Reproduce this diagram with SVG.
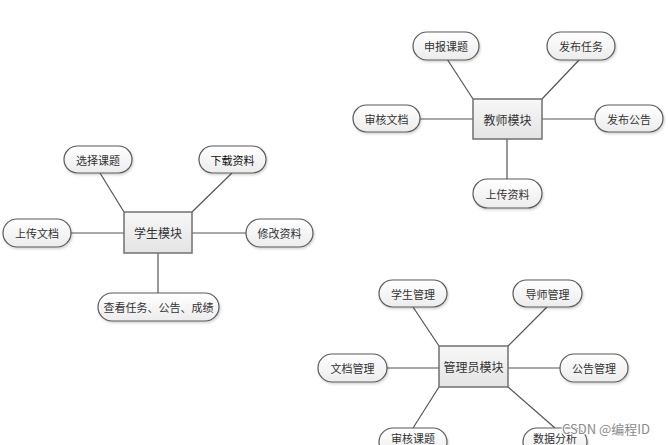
<svg xmlns="http://www.w3.org/2000/svg" width="668" height="445" viewBox="0 0 668 445">
<defs>
<linearGradient id="pg" x1="0" y1="0" x2="0" y2="1"><stop offset="0" stop-color="#ffffff"/><stop offset="1" stop-color="#ececec"/></linearGradient>
<linearGradient id="bg" x1="0" y1="0" x2="0" y2="1"><stop offset="0" stop-color="#f7f7f7"/><stop offset="1" stop-color="#e4e4e4"/></linearGradient>
<filter id="sh" x="-10%" y="-20%" width="130%" height="160%"><feDropShadow dx="1" dy="1.5" stdDeviation="1" flood-color="#000" flood-opacity="0.18"/></filter>
</defs>
<style>
.pill{fill:url(#pg);stroke:#5a5a5a;stroke-width:1.2;filter:url(#sh)}
.box{fill:url(#bg);stroke:#707070;stroke-width:1.5}
.t{font-family:"Noto Sans CJK SC","Noto Sans",sans-serif;font-size:11px;fill:#333;text-anchor:middle;dominant-baseline:central}
.tb{font-size:12px}
.c line{stroke:#555;stroke-width:1.2}
</style>
<rect width="668" height="445" fill="#fff"/>
<g class="c" id="connectors">
<line x1="447" y1="59" x2="473" y2="99"/>
<line x1="580" y1="59" x2="542" y2="99"/>
<line x1="420" y1="119" x2="473" y2="119"/>
<line x1="542" y1="119" x2="595" y2="119"/>
<line x1="507" y1="139" x2="507" y2="179"/>
<line x1="100" y1="173" x2="124" y2="212"/>
<line x1="232" y1="173" x2="192" y2="212"/>
<line x1="71" y1="233" x2="124" y2="233"/>
<line x1="192" y1="233" x2="246" y2="233"/>
<line x1="158" y1="253" x2="158" y2="293"/>
<line x1="413" y1="307" x2="439" y2="346"/>
<line x1="547" y1="307" x2="508" y2="346"/>
<line x1="387" y1="368" x2="439" y2="368"/>
<line x1="508" y1="368" x2="560" y2="368"/>
<line x1="439" y1="387" x2="413" y2="428"/>
<line x1="508" y1="387" x2="555" y2="428"/>
</g>
<g id="teacher"><rect class="box" x="473" y="99" width="69" height="40"/><text class="t tb" x="507.5" y="119">教师模块</text></g>
<g id="t1"><rect class="pill" x="413" y="32" width="66" height="28" rx="14"/><text class="t" x="446" y="46">申报课题</text></g>
<g id="t2"><rect class="pill" x="547" y="32" width="68" height="28" rx="14"/><text class="t" x="581" y="46">发布任务</text></g>
<g id="t3"><rect class="pill" x="353" y="105" width="67" height="27" rx="13.5"/><text class="t" x="386.5" y="118.5">审核文档</text></g>
<g id="t4"><rect class="pill" x="595" y="105" width="68" height="27" rx="13.5"/><text class="t" x="629" y="118.5">发布公告</text></g>
<g id="t5"><rect class="pill" x="473" y="179" width="69" height="29" rx="14.5"/><text class="t" x="507.5" y="193.5">上传资料</text></g>
<g id="student"><rect class="box" x="124" y="212" width="68" height="41"/><text class="t tb" x="158" y="232.5">学生模块</text></g>
<g id="s1"><rect class="pill" x="64" y="146" width="68" height="27" rx="13.5"/><text class="t" x="98" y="159.5">选择课题</text></g>
<g id="s2"><rect class="pill" x="199" y="146" width="67" height="27" rx="13.5"/><text class="t" x="232.5" y="159.5" style="fill:#111">下载资料</text></g>
<g id="s3"><rect class="pill" x="3" y="219" width="68" height="28" rx="14"/><text class="t" x="37" y="233">上传文档</text></g>
<g id="s4"><rect class="pill" x="246" y="219" width="67" height="28" rx="14"/><text class="t" x="279.5" y="233">修改资料</text></g>
<g id="s5"><rect class="pill" x="98" y="293" width="121" height="28" rx="14"/><text class="t" x="158.5" y="307">查看任务、公告、成绩</text></g>
<g id="admin"><rect class="box" x="439" y="346" width="69" height="41"/><text class="t tb" x="473.5" y="366.5">管理员模块</text></g>
<g id="a1"><rect class="pill" x="379" y="280" width="68" height="27" rx="13.5"/><text class="t" x="413" y="293.5">学生管理</text></g>
<g id="a2"><rect class="pill" x="513" y="280" width="69" height="27" rx="13.5"/><text class="t" x="547.5" y="293.5">导师管理</text></g>
<g id="a3"><rect class="pill" x="318" y="354" width="69" height="28" rx="14"/><text class="t" x="352.5" y="368">文档管理</text></g>
<g id="a4"><rect class="pill" x="560" y="354" width="68" height="28" rx="14"/><text class="t" x="594" y="368">公告管理</text></g>
<g id="a5"><rect class="pill" x="379" y="428" width="68" height="28" rx="14"/><text class="t" x="413" y="437.5">审核课题</text></g>
<g id="a6"><rect class="pill" x="523" y="428" width="64" height="28" rx="14"/><text class="t" x="555" y="437.5">数据分析</text></g>
<text x="562" y="434" style="font-family:'Noto Sans CJK SC','Noto Sans',sans-serif;font-size:13px;fill:#8a8a8a;stroke:#fff;stroke-width:2;paint-order:stroke">CSDN @编程ID</text>
</svg>
